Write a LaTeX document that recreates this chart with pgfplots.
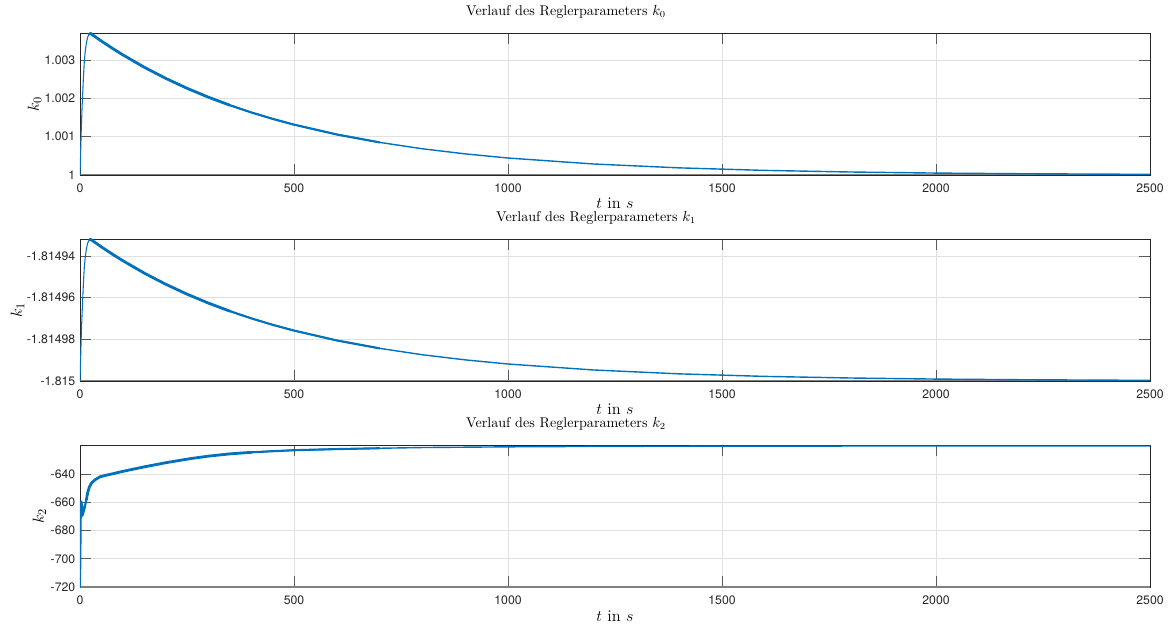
\documentclass[border=0pt]{standalone}
\usepackage{fontspec}
\usepackage{pgfplots}
\usepackage{pgfplotstable}
\pgfplotsset{compat=1.18}
\newfontfamily\helv{TeX Gyre Heros}
\definecolor{mblue}{RGB}{0,114,189}
\tikzset{bottomline/.style={black!50, line width=1.3pt}}
% k0 (offset from 1, in units of 1e-3)
\pgfplotstableread{
t v
0 0
1 0.35
2 0.8
3 1.2
4 1.5
5 1.8
6 2.05
8 2.55
10 2.95
12 3.2
15 3.45
18 3.6
22 3.68
25 3.69
50 3.495
75 3.310
100 3.135
150 2.812
200 2.523
250 2.263
300 2.030
350 1.821
400 1.633
450 1.465
500 1.314
600 1.057
700 0.851
800 0.684
900 0.551
1000 0.443
1200 0.287
1400 0.186
1600 0.120
1800 0.078
2000 0.050
2200 0.033
2500 0.017
}\kzero
% k1 (offset from -181500)
\pgfplotstableread{
t v
0 0
1 0.65
2 1.47
3 2.21
4 2.76
5 3.3
6 3.78
8 4.7
10 5.44
12 5.9
15 6.36
18 6.63
22 6.78
25 6.80
50 6.441
75 6.100
100 5.778
150 5.183
200 4.650
250 4.171
300 3.741
350 3.356
400 3.010
450 2.700
500 2.422
600 1.948
700 1.568
800 1.261
900 1.015
1000 0.816
1200 0.529
1400 0.343
1600 0.221
1800 0.144
2000 0.092
2200 0.061
2500 0.031
}\kone
% k2
\pgfplotstableread{
t v
0 -720
1 -690
2 -659
3 -668
4 -662
5 -670
6 -664
8 -667
10 -665
12 -662
15 -658
18 -653
22 -649
27 -646.3
35 -644
47 -641.8
60 -640.8
75 -639.8
100 -638.0
150 -634.8
200 -631.9
257 -629.0
300 -627.2
350 -625.6
400 -624.5
450 -623.7
500 -623.0
600 -622.2
700 -621.6
800 -621.1
1000 -620.6
1200 -620.3
1500 -620.1
2000 -620.0
2500 -620.0
}\ktwo
\pgfplotsset{
  mstyle/.style={
    width=802.5pt, height=106.5pt, scale only axis,
    xmin=0, xmax=2500, xtick={0,500,1000,1500,2000,2500},
    xticklabels={0,500,1000,1500,2000,2500},
    enlargelimits=false,
    grid=major,
    major grid style={black!12, line width=0.5pt},
    axis line style={black!85, line width=0.6pt},
    tick style={black!65, line width=0.6pt},
    major tick length=8pt,
    tick align=inside,
    ticklabel style={font=\helv\fontsize{9.2}{11}\selectfont, text=black!85},
    xticklabel style={anchor=base, yshift=-13.1pt},
    title style={font=\fontsize{10.6}{12}\selectfont, at={(0.5,1)}, anchor=base, yshift=7pt},
    label style={font=\fontsize{12.3}{14}\selectfont},
    xlabel={$t$ in $s$},
    xlabel style={at={(axis description cs:0.5,0)}, anchor=base, yshift=-25.5pt},
  },
  base/.style={mblue, line width=1.05pt, no markers},
  thick1/.style={mblue, line width=2.1pt, no markers, line cap=round},
  thick2/.style={mblue, line width=1.6pt, no markers, line cap=round},
  thin0/.style={mblue, line width=0.8pt, no markers},
}
\begin{document}
\begin{tikzpicture}
\begin{axis}[mstyle, at={(0,0)},
  ymin=0, ymax=3.705,
  ytick={0,1,2,3}, yticklabels={1,1.001,1.002,1.003},
  title={Verlauf des Reglerparameters $k_0$},
  title style={xshift=-36.75pt},
  ylabel={$k_0$},
  ylabel style={at={(axis description cs:-0.0425,0.5)}, anchor=center}]
\draw[bottomline] (rel axis cs:0,0) -- (rel axis cs:1,0);
\addplot[thin0, restrict x to domain=0:25] table[x=t,y=v] {\kzero};
\addplot[base, restrict x to domain=22:2500] table[x=t,y=v] {\kzero};
\addplot[thick1, restrict x to domain=22:350] table[x=t,y=v] {\kzero};
\addplot[thick2, restrict x to domain=350:700] table[x=t,y=v] {\kzero};
\end{axis}
\begin{axis}[mstyle, at={(0,-154.5pt)},
  ymin=0, ymax=6.82,
  ytick={0,2,4,6}, yticklabels={-1.815,-1.81498,-1.81496,-1.81494},
  title={Verlauf des Reglerparameters $k_1$},
  title style={xshift=-14.25pt},
  ylabel={$k_1$},
  ylabel style={at={(axis description cs:-0.0584,0.5)}, anchor=center}]
\draw[bottomline] (rel axis cs:0,0) -- (rel axis cs:1,0);
\addplot[thin0, restrict x to domain=0:25] table[x=t,y=v] {\kone};
\addplot[base, restrict x to domain=22:2500] table[x=t,y=v] {\kone};
\addplot[thick1, restrict x to domain=22:350] table[x=t,y=v] {\kone};
\addplot[thick2, restrict x to domain=350:700] table[x=t,y=v] {\kone};
\node[anchor=south west, inner sep=1pt, font=\helv\fontsize{7.5}{9}\selectfont, text=black!85] at (rel axis cs:0,1) {×10\textsuperscript{5}};
\end{axis}
\begin{axis}[mstyle, at={(0,-309pt)},
  ymin=-720, ymax=-619.3,
  ytick={-720,-700,-680,-660,-640}, yticklabels={-720,-700,-680,-660,-640},
  title={Verlauf des Reglerparameters $k_2$},
  title style={xshift=-36.75pt},
  ylabel={$k_2$},
  ylabel style={at={(axis description cs:-0.0379,0.5)}, anchor=center}]
\draw[bottomline] (rel axis cs:0,0) -- (rel axis cs:1,0);
\addplot[thick2, restrict x to domain=0:15] table[x=t,y=v] {\ktwo};
\addplot[base, restrict x to domain=15:2500] table[x=t,y=v] {\ktwo};
\addplot[thick1, restrict x to domain=15:400] table[x=t,y=v] {\ktwo};
\addplot[thick2, restrict x to domain=400:700] table[x=t,y=v] {\ktwo};
\end{axis}
\pgfresetboundingbox
\path (-60pt,-339pt) rectangle (820.5pt,131.25pt);
\end{tikzpicture}
\end{document}
